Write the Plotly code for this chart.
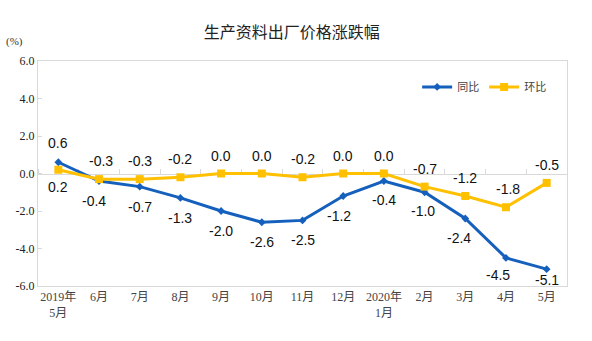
import plotly.graph_objects as go

categories = ["2019年<br>5月", "6月", "7月", "8月", "9月", "10月", "11月", "12月",
              "2020年<br>1月", "2月", "3月", "4月", "5月"]
yoy = [0.6, -0.4, -0.7, -1.3, -2.0, -2.6, -2.5, -1.2, -0.4, -1.0, -2.4, -4.5, -5.1]
mom = [0.2, -0.3, -0.3, -0.2, 0.0, 0.0, -0.2, 0.0, 0.0, -0.7, -1.2, -1.8, -0.5]
yticks = [6.0, 4.0, 2.0, 0.0, -2.0, -4.0, -6.0]

# label offsets in pixels (positive = above / right of point)
yoy_shift = [19, -20, -20, -20, -20, -20, -20, -20, -19, -19, -19, -17, -11]
yoy_xshift = [0, -5, 0, 0, 0, 0, 0, -4, 0, -2, -6, -8, 0]
mom_shift = [-17, 18, 18, 18, 18, 18, 18, 18, 18, 18, 18, 18, 18]
mom_xshift = [0, 2, 0, 0, 0, 0, 0, 0, 0, 0, 0, 2, 0]

blue = "#1560BD"
yellow = "#FFC000"
label_font = dict(family="Liberation Sans, Arial", size=14, color="#111")

fig = go.Figure()
fig.add_trace(go.Scatter(
    x=categories, y=yoy, name="同比", mode="lines+markers",
    line=dict(color=blue, width=3), marker=dict(symbol="diamond", size=6, color=blue),
))
fig.add_trace(go.Scatter(
    x=categories, y=mom, name="环比", mode="lines+markers",
    line=dict(color=yellow, width=3), marker=dict(symbol="square", size=8, color=yellow),
))
# invisible trace to host the zero-line tick axis
fig.add_trace(go.Scatter(x=categories, y=[0] * len(categories), xaxis="x2",
                         mode="markers", marker=dict(size=0.1, opacity=0), showlegend=False,
                         hoverinfo="skip"))

annotations = []
for c, v, s, xs in zip(categories, yoy, yoy_shift, yoy_xshift):
    annotations.append(dict(x=c, y=v, text=f"{v:.1f}", showarrow=False, yshift=s, xshift=xs,
                            xanchor="center", yanchor="middle", font=label_font))
for c, v, s, xs in zip(categories, mom, mom_shift, mom_xshift):
    annotations.append(dict(x=c, y=v, text=f"{v:.1f}", showarrow=False, yshift=s, xshift=xs,
                            xanchor="center", yanchor="middle", font=label_font))
annotations.append(dict(text="(%)", xref="paper", yref="paper", x=-0.045, y=1.085,
                        xanchor="center", yanchor="middle", showarrow=False,
                        font=dict(family="Liberation Serif", size=11, color="#333")))

n = len(categories)
fig.update_layout(
    width=592, height=341,
    margin=dict(l=38, r=25, t=61, b=55),
    paper_bgcolor="white", plot_bgcolor="white",
    title=dict(text="生产资料出厂价格涨跌幅", x=0.493, xanchor="center", y=0.905, yanchor="middle",
               font=dict(family="Noto Sans CJK SC", size=16, color="#222")),
    xaxis=dict(type="category", range=[-0.5, n - 0.5], showgrid=False,
               showline=True, linecolor="#d9d9d9", linewidth=1, mirror=True,
               ticks="", tickfont=dict(family="Liberation Serif, Noto Sans CJK SC", size=12, color="#444")),
    xaxis2=dict(type="category", overlaying="x", anchor="free", position=0.5, side="top",
                range=[-0.5, n - 0.5], showgrid=False, showline=True, linecolor="#d9d9d9",
                linewidth=1, ticks="outside", tickson="boundaries", ticklen=5,
                tickcolor="#d9d9d9", showticklabels=False, layer="below traces"),
    yaxis=dict(range=[-6, 6], tickvals=yticks, ticktext=[f"{v:.1f}" for v in yticks],
               showgrid=False, zeroline=False, showline=True, linecolor="#d9d9d9",
               linewidth=1, mirror=True, ticks="inside", ticklen=4, tickcolor="#d9d9d9",
               tickfont=dict(family="Liberation Serif", size=12, color="#222")),
    legend=dict(orientation="h", x=0.97, xanchor="right", y=0.885, yanchor="middle",
                font=dict(family="Noto Sans CJK SC", size=11, color="#444"),
                bgcolor="rgba(0,0,0,0)", itemwidth=30),
    showlegend=True,
    annotations=annotations,
)

fig.write_html("out.html")
